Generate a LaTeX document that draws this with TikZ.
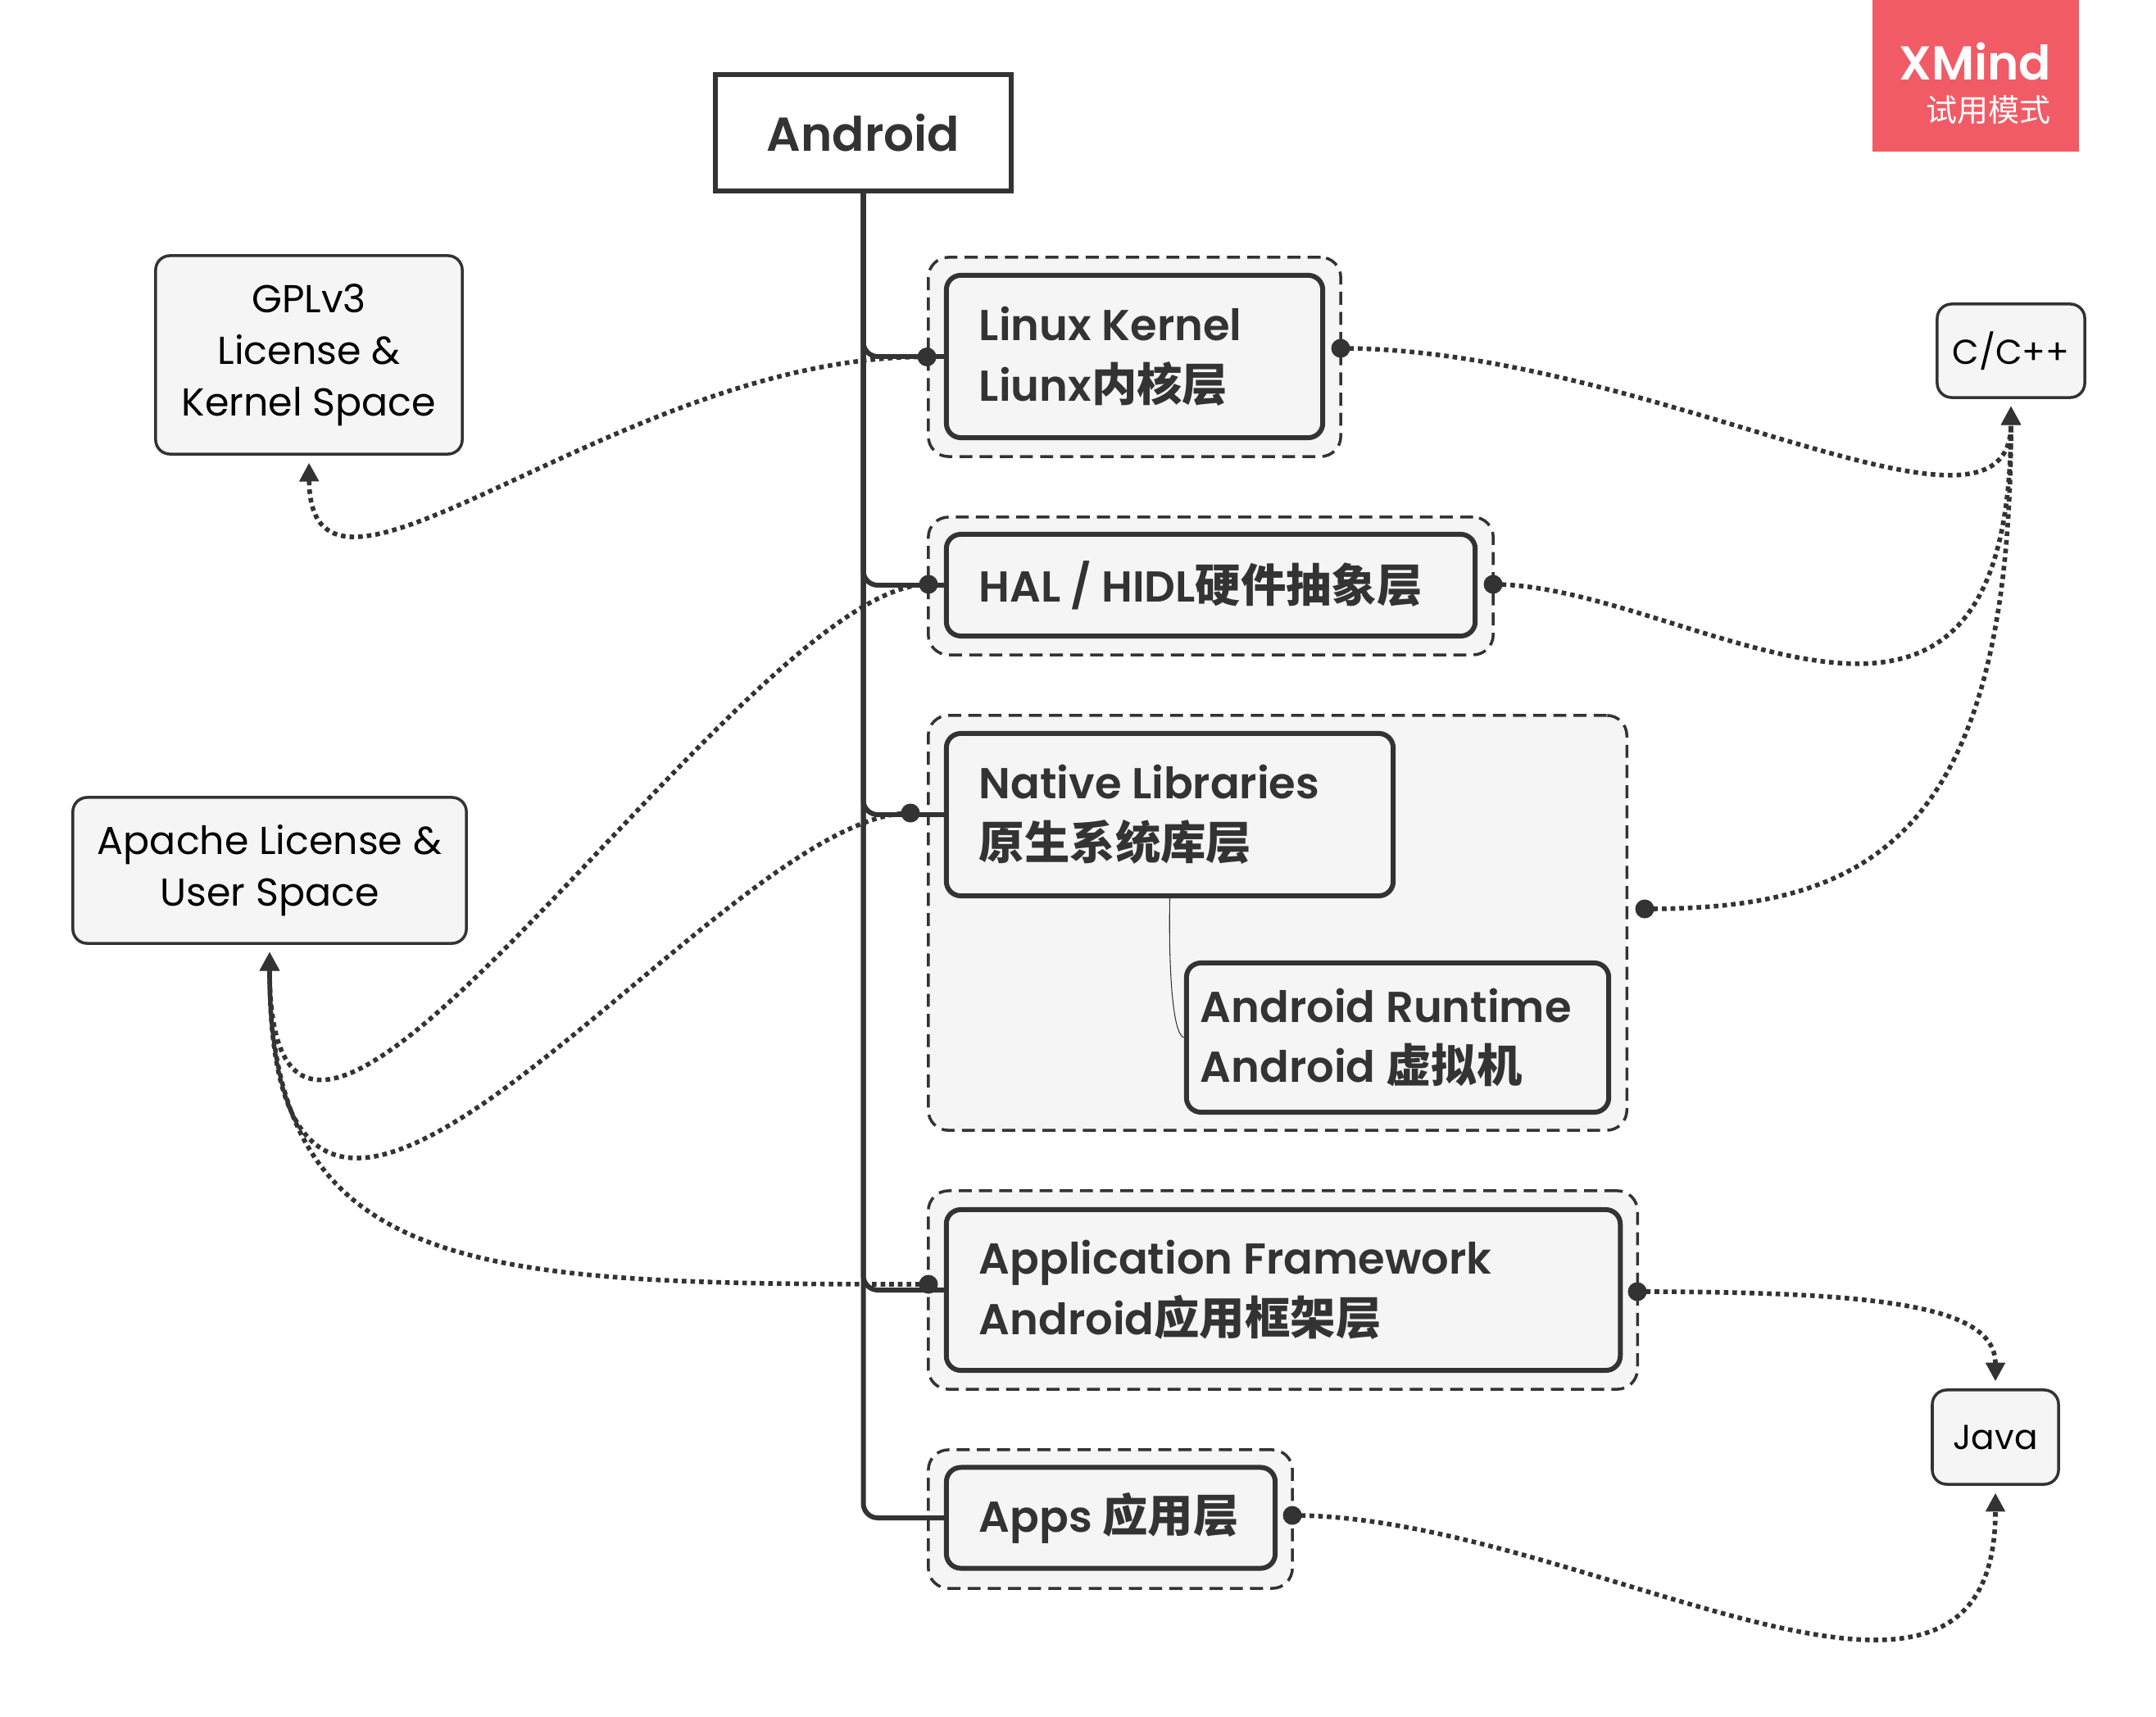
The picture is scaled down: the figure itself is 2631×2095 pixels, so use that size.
\documentclass[tikz,border=0pt]{standalone}
\usepackage{fontspec}
\usepackage{xcolor}
\usetikzlibrary{arrows.meta,positioning}
\setmainfont{Poppins}[BoldFont=Poppins SemiBold]
\newfontfamily\cjkfont[Scale=1.05]{Noto Sans CJK SC}
\newcommand{\zh}[1]{{\cjkfont #1}}
\definecolor{cdark}{HTML}{333333}
\definecolor{cfill}{HTML}{F5F5F5}
\definecolor{cbadge}{HTML}{F15B66}
\tikzset{
    rootbox/.style={draw=cdark, fill=white, line width=1.7pt, minimum width=3.60cm,
          minimum height=1.42cm, font=\fontsize{16.5}{20}\selectfont\bfseries, text=cdark},
    layergroup/.style={draw=cdark, fill=cfill, line width=1pt, rounded corners=7pt,
          dash pattern=on 4.5pt off 2.5pt},
    layerbox/.style={draw=cdark, fill=cfill, line width=1.7pt, rounded corners=5pt,
          align=flush left, inner xsep=0.4cm, inner ysep=0pt,
          font=\fontsize{15}{21}\selectfont\bfseries, text=cdark},
    notebox/.style={draw=cdark, fill=cfill, line width=1pt, rounded corners=5pt,
          align=center, inner sep=0pt, text=black,
          font=\fontsize{13.5}{18}\selectfont},
    trunkline/.style={draw=cdark, line width=1.7pt, rounded corners=5pt},
    dotmark/.style={circle, fill=cdark, inner sep=0pt, minimum size=0.23cm},
    licenseline/.style={draw=cdark, line width=1.6pt, dash pattern=on 1.6pt off 1.4pt,
          -{Triangle[length=6.5pt,width=6.5pt]}, shorten >=2.5pt},
}

\begin{document}
\begin{tikzpicture}[x=0.01cm, y=-0.01cm]
    \useasboundingbox (0,0) rectangle (2631,2095);

    \node[rootbox] (android) at (1053.5,162) {Android};

    \node[layergroup, minimum width=5.03cm, minimum height=2.43cm] (linuxgroup) at (1384.5,435.5) {};
    \node[layergroup, minimum width=6.89cm, minimum height=1.68cm] (halgroup) at (1477.5,715) {};
    \node[layergroup, minimum width=8.52cm, minimum height=5.06cm] (nativegroup) at (1559,1126) {};
    \node[layergroup, minimum width=8.65cm, minimum height=2.42cm] (appgroup) at (1565.5,1574) {};
    \node[layergroup, minimum width=4.44cm, minimum height=1.69cm] (appsgroup) at (1355,1853.5) {};

    \node[layerbox, text width=3.79cm, minimum height=1.98cm] (linuxnode) at (1384.5,435) {Linux Kernel\\Liunx\zh{内核层}};
    \node[layerbox, text width=5.65cm, minimum height=1.24cm] (halnode) at (1477.5,714) {HAL\kern0.12cm/\kern0.12cm HIDL\zh{硬件抽象层}};
    \node[layerbox, text width=4.65cm, minimum height=1.98cm] (nativenode) at (1427.5,994) {Native Libraries\\\zh{原生系统库层}};
    \node[layerbox, text width=4.81cm, minimum height=1.82cm, inner xsep=0.17cm] (runtimenode) at (1705.5,1266) {Android Runtime\\Android \zh{虚拟机}};
    \node[layerbox, text width=7.42cm, minimum height=1.96cm] (appnode) at (1566,1574) {Application Framework\\Android\zh{应用框架层}};
    \node[layerbox, text width=3.21cm, minimum height=1.23cm] (appsnode) at (1355.5,1852) {Apps \zh{应用层}};

    \node[notebox, minimum width=3.74cm, minimum height=2.42cm] (gplbox) at (377,433) {GPLv3\\License \&\\Kernel Space};
    \node[notebox, minimum width=4.80cm, minimum height=1.78cm] (apachebox) at (329,1062) {Apache License \&\\User Space};
    \node[notebox, minimum width=1.80cm, minimum height=1.14cm, font=\fontsize{12}{18}\selectfont] (cppbox) at (2454,428) {C/C++};
    \node[notebox, minimum width=1.54cm, minimum height=1.15cm, font=\fontsize{12}{18}\selectfont] (javabox) at (2435,1753.5) {Java};

    \node[fill=cbadge, text=white, minimum width=2.52cm, minimum height=1.85cm, inner sep=0pt] (badge) at (2411,92.5) {};
    \node[text=white, anchor=east, font=\fontsize{16.5}{20}\selectfont\bfseries, inner sep=0pt] (badgetitle) at (2504,75) {XMind};
    \node[text=white, anchor=east, font=\fontsize{10.3}{14}\cjkfont, inner sep=0pt] (badgemode) at (2503,134) {试用模式};

    \draw[trunkline] (android.south) |- (linuxnode.west);
    \draw[trunkline] (android.south) |- (halnode.west);
    \draw[trunkline] (android.south) |- (nativenode.west);
    \draw[trunkline] (android.south) |- (appnode.west);
    \draw[trunkline] (android.south) |- (appsnode.west);

    \draw[cdark, line width=0.3pt] (nativenode.south) .. controls (1426,1175) and (1430,1262) .. (runtimenode.west);

    \node[dotmark] (linuxin) at (linuxgroup.west) {};
    \node[dotmark] (linuxout) at (1636,425) {};
    \node[dotmark] (halin) at (1133,713) {};
    \node[dotmark] (halout) at (1822,713) {};
    \node[dotmark] (nativein) at (1111,992) {};
    \node[dotmark] (nativeout) at (2007,1109) {};
    \node[dotmark] (appin) at (1133,1567) {};
    \node[dotmark] (appout) at (1998,1576) {};
    \node[dotmark] (appsout) at (1577,1849) {};

    \draw[licenseline] (linuxin.center) .. controls (755,433) and (379,805) .. (gplbox.south);
    \draw[licenseline] (halin.center) .. controls (906,713) and (329,1661) .. (apachebox.south);
    \draw[licenseline] (nativein.center) .. controls (873,992) and (329,1795) .. (apachebox.south);
    \draw[licenseline] (appin.center) .. controls (587,1567) and (329,1561) .. (apachebox.south);
    \draw[licenseline] (linuxout.center) .. controls (2014,425) and (2454,700) .. (cppbox.south);
    \draw[licenseline] (halout.center) .. controls (2060,713) and (2454,1030) .. (cppbox.south);
    \draw[licenseline] (nativeout.center) .. controls (2265,1109) and (2454,1040) .. (cppbox.south);
    \draw[licenseline] (appout.center) .. controls (2299,1576) and (2435,1594) .. (javabox.north);
    \draw[licenseline] (appsout.center) .. controls (1930,1849) and (2435,2195) .. (javabox.south);
\end{tikzpicture}
\end{document}
